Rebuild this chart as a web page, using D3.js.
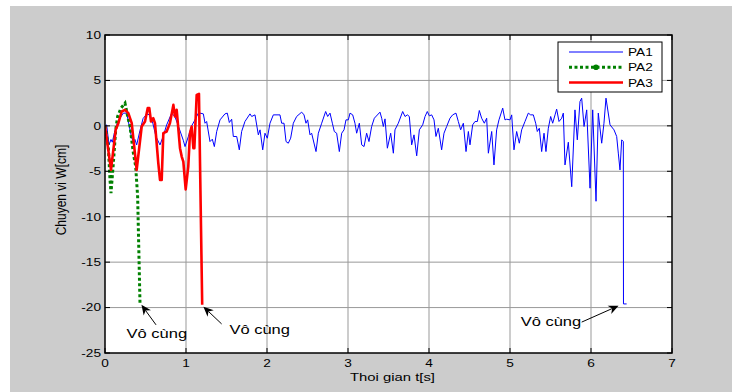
<!DOCTYPE html>
<html><head><meta charset="utf-8">
<script src="https://cdn.jsdelivr.net/npm/d3@7"></script>
<style>body{margin:0;background:#fff}svg{display:block}</style>
</head><body><svg id="c" width="732" height="392"></svg>
<script>
// ---------- data ----------
const xTicks = [0,1,2,3,4,5,6,7];
const yTicks = [-25,-20,-15,-10,-5,0,5,10];
const seriesNames = ["PA1","PA2","PA3"];
const xLabel = "Thoi gian t[s]";
const yLabel = "Chuyen vi W[cm]";

const pa1T = [0,0.021,0.049,0.074,0.09,0.123,0.16,0.226,0.268,0.288,0.33,0.35,0.37,0.391,0.432,0.47,0.515,0.556,0.59,0.63,0.679,0.72,0.761,0.823,0.864,0.905,0.967,0.988,1.028,1.07,1.111,1.152,
1.173,1.214,1.235,1.255,1.296,1.325,1.350,1.379,1.420,1.481,1.510,1.535,1.564,1.584,1.626,1.658,1.687,1.728,1.790,1.811,1.852,1.893,1.914,1.947,1.975,2.004,2.037,2.078,2.160,2.181,2.210,2.235,2.263,2.292,2.325,2.366,2.428,2.457,2.481,2.502,2.531,2.551,2.605,2.634,2.675,2.724,2.749,2.778,2.807,2.831,2.860,2.893,2.922,2.951,2.975,3.004,3.025,3.058,3.086,3.107,3.140,3.169,3.198,3.230,3.259,3.292,3.325,3.395,
3.416,3.436,3.457,3.486,3.527,3.560,3.580,3.621,3.675,3.704,3.733,3.757,3.786,3.815,3.848,3.881,3.922,3.951,3.979,4.004,4.033,4.062,4.086,4.115,4.156,4.185,4.218,4.259,4.292,4.333,4.362,4.391,4.424,4.457,4.486,4.506,4.539,4.568,4.597,4.621,4.650,4.683,4.712,4.733,4.774,4.802,4.835,4.864,4.910,4.938,4.959,5.000,5.021,5.049,5.082,5.115,5.144,5.185,5.226,5.255,5.288,5.317,5.337,5.362,5.391,5.420,5.444,5.473,5.502,5.527,5.556,5.576,5.605,5.638,5.658,5.679,
5.720,5.762,5.802,5.831,5.864,5.885,5.914,5.947,5.988,6.021,6.062,6.090,6.132,6.160,6.185,6.235,6.284,6.317,6.337,6.358,6.379,6.399,6.401,6.44];
const pa1V = [0,0.1,-2.1,-1.5,-1.8,-0.5,0.5,1.4,1.4,0.5,-1.36,-1.7,-1.5,-2.1,-0.5,0.8,1.3,1.2,0.3,-1.2,-2.1,-1.1,0.1,1.4,1.0,0.0,-1.6,-2.28,-1.2,0.0,0.66,1.4,
1.40,1.32,0.29,0.48,-1.73,-1.47,-2.28,-0.62,0.66,1.32,1.40,0.37,0.73,-1.17,-1.17,-2.64,-0.62,0.48,1.32,1.03,1.21,-0.99,-0.44,-2.64,-0.81,-1.36,0.29,1.21,1.21,0.29,0.29,-1.73,-1.91,-1.36,0.29,1.03,1.51,1.21,0.29,0.66,-0.99,-0.81,-2.83,-0.81,0.29,1.58,1.03,1.40,0.29,-0.62,-0.81,-2.83,-0.81,-0.44,0.66,0.66,1.40,1.21,0.29,-0.81,0.29,-2.09,-2.28,-0.81,-1.73,-0.07,0.84,1.51,
0.84,-0.07,0.77,-2.46,-0.81,-3.01,-0.44,0.29,1.58,1.03,1.21,1.03,-2.09,-0.99,-3.30,-0.44,0.11,1.03,1.58,1.10,1.21,0.66,-1.17,-0.26,-2.64,-0.81,-0.07,0.84,1.21,1.40,0.48,-0.44,0.29,-2.83,-0.62,-2.09,0.11,0.48,0.48,1.69,0.84,0.29,0.84,-3.01,-0.62,-4.30,-0.44,0.66,1.95,0.66,0.73,0.66,1.21,-2.64,-0.62,-1.91,-0.44,0.48,1.40,1.21,1.21,0.29,-0.62,-0.26,-2.83,-0.81,-2.83,-0.26,1.03,0.29,1.21,1.84,0.48,0.84,1.40,-4.30,
-1.8,-6.7,1.76,-1.54,2.68,3.05,-0.07,1.76,-6.86,1.76,-8.3,1.40,-1.91,0.29,3.05,0.11,-0.44,-1.17,-3.0,-4.85,-1.54,-1.73,-19.6,-19.6];

const pa2T = [0,0.041,0.062,0.074,0.103,0.132,0.156,0.197,0.247,0.280,0.309,0.350,0.379,0.403,0.432];
const pa2V = [0,-2.3,-5.95,-7.4,-4.1,-0.44,1.03,1.95,2.5,1.03,-0.07,-3.0,-4.48,-7.8,-19.5];

const pa3T = [0,0.074,0.132,0.165,0.206,0.247,0.288,0.33,0.391,0.453,0.494,0.527,0.547,0.568,0.596,0.617,0.658,0.679,0.700,0.72,0.761,0.802,0.844,0.864,0.885,0.926,0.947,0.967,0.996,1.028,1.049,1.070,1.091,1.103,1.132,1.16,1.20];
const pa3V = [0,-4.85,-0.44,0.29,1.58,1.76,1.40,0.3,-4.85,-0.07,0.48,1.95,1.95,0.48,0.84,0.3,-4.1,-5.95,-5.95,-0.81,-0.62,0.3,2.31,1.03,1.76,-2.46,-3.38,-3.93,-7.0,-4.48,-0.81,-0.07,-2.46,-2.46,3.41,3.52,-19.7];

// annotations in data units: text anchor, arrow tail, arrow tip
const annText = ["Vô cùng","Vô cùng","Vô cùng"];
const annTextAt = [[0.64,-23.3],[1.91,-22.9],[5.505,-22.0]];
const annTail = [[0.63,-21.9],[1.44,-21.8],[5.885,-21.6]];
const annTip  = [[0.45,-19.7],[1.215,-19.9],[6.34,-19.8]];

// ---------- drawing ----------
const svg = d3.select("#c");
const FONT = "'Liberation Sans', Arial, Helvetica, sans-serif";
const K = 1.3; // horizontal stretch of the original rendering

svg.append("rect").attr("width",732).attr("height",392).attr("fill","#fff");
svg.append("rect").attr("x",10).attr("y",6).attr("width",722).attr("height",386).attr("fill","#cccccc");

const x = d3.scaleLinear().domain([0,7]).range([105,672]);
const y = d3.scaleLinear().domain([-25,10]).range([353,35]);

svg.append("rect").attr("x",x(0)).attr("y",y(10)).attr("width",x(7)-x(0)).attr("height",y(-25)-y(10)).attr("fill","#fff");

function txt(str, px, py, anchor, size, k){
  return svg.append("text").attr("transform",`translate(${px},${py}) scale(${k},1)`)
    .attr("text-anchor",anchor).attr("font-family",FONT).attr("font-size",size).attr("fill","#000").text(str);
}

// grid
const g = svg.append("g");
g.selectAll(".gx").data(xTicks.slice(1,-1)).join("line")
  .attr("x1",d=>x(d)).attr("x2",d=>x(d)).attr("y1",y(10)).attr("y2",y(-25))
  .attr("stroke","#999").attr("stroke-width",1);
g.selectAll(".gy").data(yTicks.slice(1,-1)).join("line")
  .attr("y1",d=>y(d)).attr("y2",d=>y(d)).attr("x1",x(0)).attr("x2",x(7))
  .attr("stroke","#999").attr("stroke-width",1);

// clip
svg.append("clipPath").attr("id","clip").append("rect")
  .attr("x",x(0)).attr("y",y(10)).attr("width",x(7)-x(0)).attr("height",y(-25)-y(10));
const plot = svg.append("g").attr("clip-path","url(#clip)");
const line = d3.line().x(d=>x(d[0])).y(d=>y(d[1]));

plot.append("path").datum(d3.zip(pa1T,pa1V)).attr("d",line)
  .attr("fill","none").attr("stroke","#0000ff").attr("stroke-width",1).attr("stroke-linejoin","round");
plot.append("path").datum(d3.zip(pa2T,pa2V)).attr("d",line)
  .attr("fill","none").attr("stroke","#008000").attr("stroke-width",3).attr("stroke-dasharray","3,2.5");
plot.append("path").datum(d3.zip(pa3T,pa3V)).attr("d",line)
  .attr("fill","none").attr("stroke","#ff0000").attr("stroke-width",2.6).attr("stroke-linejoin","round");

// axes box and ticks
const ax = svg.append("g");
ax.append("rect").attr("x",x(0)).attr("y",y(10)).attr("width",x(7)-x(0)).attr("height",y(-25)-y(10))
  .attr("fill","none").attr("stroke","#000").attr("stroke-width",1.5);
const TL = 5;
xTicks.forEach(t=>{
  ax.append("line").attr("x1",x(t)).attr("x2",x(t)).attr("y1",y(-25)).attr("y2",y(-25)-TL).attr("stroke","#000");
  ax.append("line").attr("x1",x(t)).attr("x2",x(t)).attr("y1",y(10)).attr("y2",y(10)+TL).attr("stroke","#000");
  txt(String(t), x(t), 367, "middle", 10.5, K);
});
yTicks.forEach(v=>{
  ax.append("line").attr("x1",x(0)).attr("x2",x(0)+TL).attr("y1",y(v)).attr("y2",y(v)).attr("stroke","#000");
  ax.append("line").attr("x1",x(7)).attr("x2",x(7)-TL).attr("y1",y(v)).attr("y2",y(v)).attr("stroke","#000");
  txt(String(v), 101, y(v)+3.8, "end", 10.5, K);
});

// axis labels
txt(xLabel, (x(0)+x(7))/2 + 4, 381, "middle", 11, 1.35);
svg.append("text").attr("transform",`translate(66,190) scale(1.15,1) rotate(-90)`)
  .attr("text-anchor","middle").attr("font-family",FONT).attr("font-size",12).text(yLabel);

// annotations
annText.forEach((s,i)=>{
  txt(s, x(annTextAt[i][0]), y(annTextAt[i][1]), "middle", 13, 1.27);
  const x1=x(annTail[i][0]), y1=y(annTail[i][1]), x2=x(annTip[i][0]), y2=y(annTip[i][1]);
  const ang=Math.atan2(y2-y1,x2-x1), L=10, Wd=4.5, back=7;
  const ux=Math.cos(ang), uy=Math.sin(ang), nx=-uy, ny=ux;
  svg.append("line").attr("x1",x1).attr("y1",y1).attr("x2",x2-ux*back).attr("y2",y2-uy*back).attr("stroke","#000").attr("stroke-width",1);
  const p=[[x2,y2],[x2-ux*L+nx*Wd,y2-uy*L+ny*Wd],[x2-ux*back,y2-uy*back],[x2-ux*L-nx*Wd,y2-uy*L-ny*Wd]];
  svg.append("path").attr("d","M"+p.map(q=>q.join(",")).join("L")+"Z").attr("fill","#000");
});

// legend
const lg = svg.append("g");
lg.append("rect").attr("x",558).attr("y",42).attr("width",104).attr("height",50)
  .attr("fill","#fff").attr("stroke","#000").attr("stroke-width",1);
const legY=[52,67.3,82.5];
const legStyle=[{c:"#0000ff",w:1,d:null},{c:"#008000",w:3,d:"3,2.5"},{c:"#ff0000",w:2.6,d:null}];
seriesNames.forEach((n,i)=>{
  lg.append("line").attr("x1",569).attr("x2",623).attr("y1",legY[i]).attr("y2",legY[i])
    .attr("stroke",legStyle[i].c).attr("stroke-width",legStyle[i].w).attr("stroke-dasharray",legStyle[i].d);
  if(i===1) lg.append("circle").attr("cx",596).attr("cy",legY[i]).attr("r",2.8).attr("fill","#008000");
  txt(n, 628, legY[i]+4, "start", 10.5, K);
});
</script></body></html>
